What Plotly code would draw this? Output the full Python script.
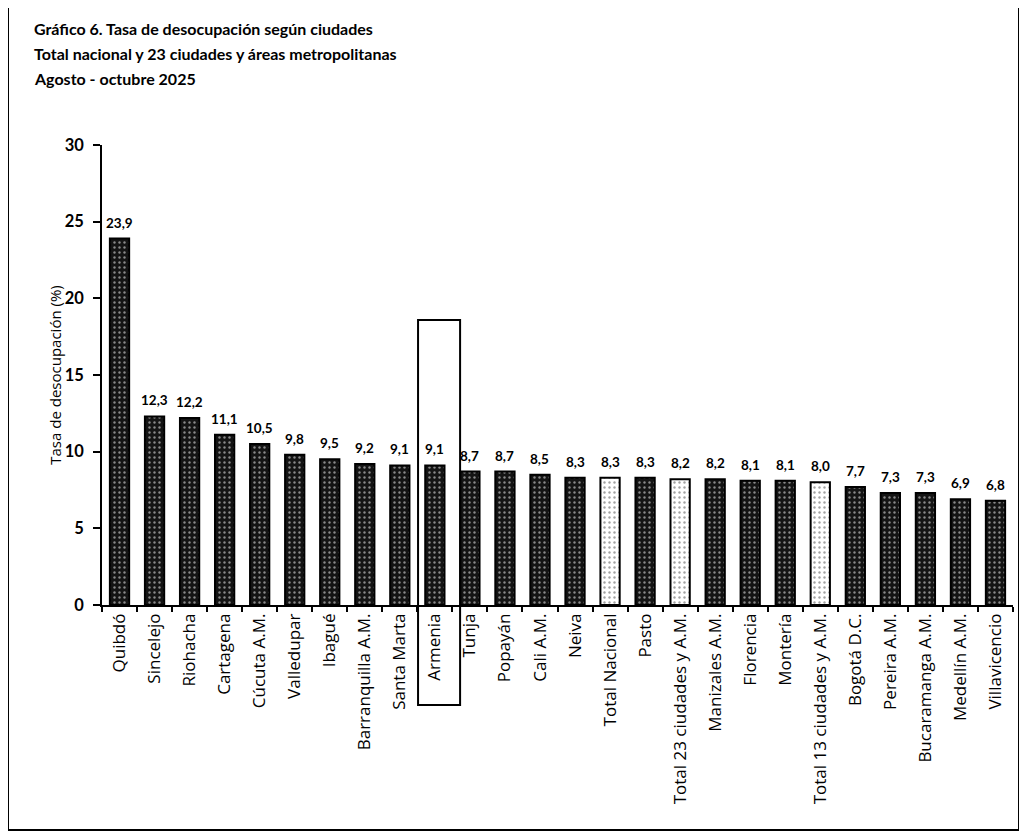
import plotly.graph_objects as go

categories = ["Quibdó", "Sincelejo", "Riohacha", "Cartagena", "Cúcuta A.M.", "Valledupar",
              "Ibagué", "Barranquilla A.M.", "Santa Marta", "Armenia", "Tunja", "Popayán",
              "Cali A.M.", "Neiva", "Total Nacional", "Pasto", "Total 23 ciudades y A.M.",
              "Manizales A.M.", "Florencia", "Montería", "Total 13 ciudades y A.M.",
              "Bogotá D.C.", "Pereira A.M.", "Bucaramanga A.M.", "Medellín A.M.", "Villavicencio"]
values = [23.9, 12.3, 12.2, 11.1, 10.5, 9.8, 9.5, 9.2, 9.1, 9.1, 8.7, 8.7, 8.5, 8.3, 8.3,
          8.3, 8.2, 8.2, 8.1, 8.1, 8.0, 7.7, 7.3, 7.3, 6.9, 6.8]
totals = ["Total Nacional", "Total 23 ciudades y A.M.", "Total 13 ciudades y A.M."]
highlight = "Armenia"
y_ticks = [0, 5, 10, 15, 20, 25, 30]
title_lines = ["Gráfico 6. Tasa de desocupación según ciudades",
               "Total nacional y 23 ciudades y áreas metropolitanas",
               "Agosto - octubre 2025"]

FONT = "Lato"
FONT2 = "Open Sans"

# The page body adds an 8px margin; size/shift the figure so it fills the viewport.
OFF = 8
FW, FH = 1027 - OFF, 836 - OFF

is_total = [c in totals for c in categories]
bar_color = ["#ffffff" if t else "#141414" for t in is_total]
dot_color = ["#555555" if t else "#8a8a8a" for t in is_total]

fig = go.Figure()
fig.add_trace(go.Bar(
    x=categories, y=values, width=0.55,
    marker=dict(color=bar_color, line=dict(color="#000000", width=2),
                pattern=dict(shape=".", fgcolor=dot_color, size=5, solidity=0.18,
                             fillmode="overlay")),
    showlegend=False, hoverinfo="x+y",
))

# pixel positions (reference image coordinates) -> figure paper coords
plot_top, plot_bottom, plot_left, plot_right = 145 - OFF, 605 - OFF, 102 - OFF, 1013 - OFF
H = plot_bottom - plot_top
W = plot_right - plot_left
def px_x(px):
    return (px - OFF - plot_left) / W
def px_y(py):
    return (plot_bottom - (py - OFF)) / H

annotations = []
for c, v in zip(categories, values):
    annotations.append(dict(x=c, y=v, xref="x", yref="y", text=f"{v:.1f}".replace(".", ","),
                            showarrow=False, yanchor="bottom", yshift=6,
                            font=dict(family=FONT, size=13.5, color="#000000", weight="bold")))
title_y = [29, 54, 78]
for line, ty in zip(title_lines, title_y):
    annotations.append(dict(x=px_x(32), y=px_y(ty), xref="paper", yref="paper", text=line,
                            showarrow=False, xanchor="left", yanchor="middle",
                            font=dict(family=FONT, size=16, color="#000000", weight="bold")))

hi = categories.index(highlight)
shapes = [
    dict(type="rect", xref="paper", yref="paper",
         x0=px_x(8), x1=px_x(1019), y0=px_y(830), y1=px_y(5),
         line=dict(color="#000000", width=2), layer="above"),
    dict(type="rect", xref="x", yref="paper",
         x0=hi - 0.48, x1=hi + 0.72, y0=px_y(705), y1=px_y(320),
         line=dict(color="#000000", width=2), layer="above"),
]

fig.update_layout(
    width=FW, height=FH,
    margin=dict(l=plot_left, r=FW - plot_right, t=plot_top, b=FH - plot_bottom),
    paper_bgcolor="#ffffff", plot_bgcolor="#ffffff",
    font=dict(family=FONT2, color="#000000"),
    annotations=annotations, shapes=shapes,
)
fig.update_xaxes(
    tickangle=-90, tickson="boundaries", ticks="outside", ticklen=5, tickwidth=1.5,
    tickcolor="#000000", showline=True, linecolor="#000000", linewidth=1.5,
    tickfont=dict(family=FONT2, size=17, color="#000000"), showgrid=False,
    range=[-0.5, len(categories) - 0.5],
)
fig.update_yaxes(
    range=[0, 30], tickvals=y_ticks, ticks="outside", ticklen=7, tickwidth=1.5,
    tickcolor="#000000", showline=True, linecolor="#000000", linewidth=1.5,
    tickfont=dict(family=FONT, size=16.5, color="#000000", weight="bold"), showgrid=False,
    zeroline=False, ticklabelstandoff=6,
    title=dict(text="Tasa de desocupación (%)", font=dict(family=FONT2, size=15, color="#000000"),
               standoff=0),
)

fig.write_html("out.html")
